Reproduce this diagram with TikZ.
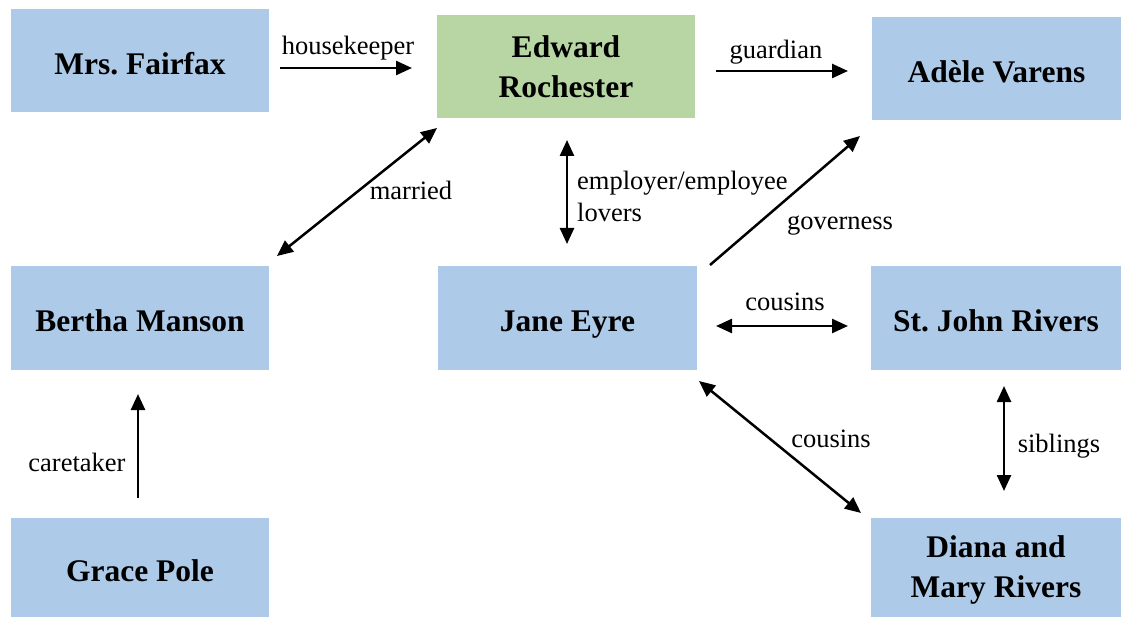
\documentclass[tikz,border=0pt]{standalone}
\usepackage{fontspec}
\setmainfont{Liberation Serif}
\usetikzlibrary{arrows.meta}
\definecolor{boxblue}{HTML}{ADCBE9}
\definecolor{boxgreen}{HTML}{B8D6A3}
\frenchspacing
\begin{document}
\begin{tikzpicture}[x=1pt,y=-1pt,
 person/.style={fill=boxblue, draw=none, minimum width=258pt, minimum height=103pt, align=center, font=\fontsize{31.5}{40}\selectfont\bfseries, inner sep=0pt},
 oneline/.style={text height=28pt, text depth=0pt},
 tip/.tip={Triangle[length=16pt,width=14pt]},
 rel/.style={line width=2.5pt, -tip},
 both/.style={line width=2.5pt, tip-tip},
 lbl/.style={font=\fontsize{26.5}{32}\selectfont, inner sep=0pt}]
\useasboundingbox (0,0) rectangle (1121,617);

\node[person, oneline] (fairfax) at (140,61) {Mrs. Fairfax};
\node[person, fill=boxgreen] (edward) at (566,66.5) {Edward\\Rochester};
\node[person, oneline, minimum width=249pt] (adele) at (996.5,68.5) {Adèle Varens};
\node[person, oneline] (bertha) at (140,318) {Bertha Manson};
\node[person, oneline, minimum width=259pt] (jane) at (567.5,318) {Jane Eyre};
\node[person, oneline, minimum width=250pt] (stjohn) at (996,318) {St. John Rivers};
\node[person, oneline, minimum height=99pt] (grace) at (140,567) {Grace Pole};
\node[person, minimum width=250pt, minimum height=99pt] (diana) at (996,567) {\rule{0pt}{0.88em}Diana and\\Mary Rivers};

\coordinate (hkA) at (280,68); \coordinate (hkB) at (412,68);
\coordinate (guA) at (716,71); \coordinate (guB) at (848,71);
\coordinate (maA) at (437,128); \coordinate (maB) at (277,256);
\coordinate (emA) at (567,140); \coordinate (emB) at (567,244);
\coordinate (goA) at (710,265); \coordinate (goB) at (860,136);
\coordinate (chA) at (716,326); \coordinate (chB) at (848,326);
\coordinate (cdA) at (699,381); \coordinate (cdB) at (861,513);
\coordinate (siA) at (1004,386); \coordinate (siB) at (1004,491);
\coordinate (caA) at (138,498); \coordinate (caB) at (138,394);

\draw[rel] (hkA) -- (hkB);
\draw[rel] (guA) -- (guB);
\draw[both] (maA) -- (maB);
\draw[both] (emA) -- (emB);
\draw[rel] (goA) -- (goB);
\draw[both] (chA) -- (chB);
\draw[both] (cdA) -- (cdB);
\draw[both] (siA) -- (siB);
\draw[rel] (caA) -- (caB);

\node[lbl] (lhk) at (348,48) {housekeeper};
\node[lbl] (lgu) at (776,52.5) {guardian};
\node[lbl] (lma) at (411,190) {married};
\node[lbl, anchor=west, align=left] (lem) at (577,196) {employer/employee\\lovers};
\node[lbl] (lgo) at (840,226) {governess};
\node[lbl] (lch) at (785,302) {cousins};
\node[lbl] (lcd) at (831,439) {cousins};
\node[lbl] (lsi) at (1059,446) {siblings};
\node[lbl] (lca) at (77,462) {caretaker};
\end{tikzpicture}
\end{document}
